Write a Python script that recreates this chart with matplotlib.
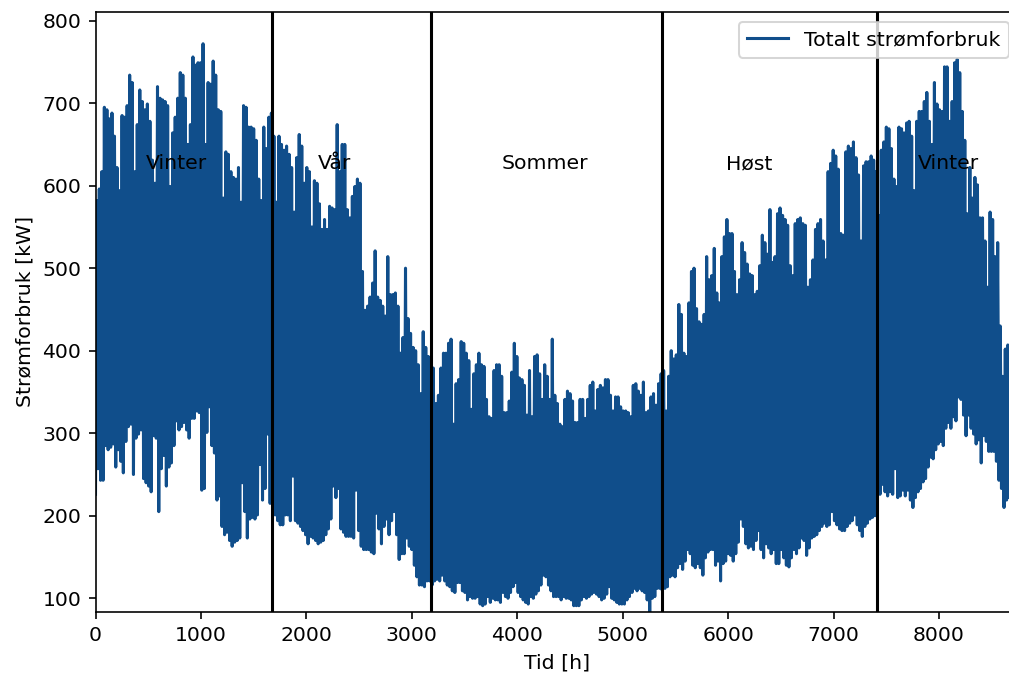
import numpy as np
import matplotlib
matplotlib.use("Agg")
import matplotlib.pyplot as plt

# Daily peak (daytime max) and trough (night min) power, kW
peak_winter1 = [582, 596, 617, 695, 692, 681, 688, 660, 622, 594, 685, 683, 697, 734, 725, 617, 674, 716, 702, 692,
                699, 678, 631, 603, 720, 706, 704, 702, 697, 599, 664, 683, 706, 737, 734, 706, 650, 674, 756, 746,
                749, 749, 772, 650, 725, 723, 751, 734, 692, 690, 585, 641, 638, 617, 610, 608, 622, 580, 697, 695, 671]
trough_winter1 = [226, 257, 243, 243, 285, 280, 283, 287, 259, 280, 266, 252, 290, 308, 311, 250, 294, 299, 304, 245,
                  240, 236, 229, 297, 294, 205, 257, 273, 236, 259, 264, 285, 315, 304, 308, 313, 304, 294, 318, 318,
                  327, 325, 231, 233, 301, 332, 285, 276, 219, 224, 187, 177, 180, 170, 163, 168, 170, 173, 240, 205, 173]
peak_spring = [671, 669, 655, 608, 582, 671, 645, 683, 688, 660, 580, 660, 650, 643, 648, 638, 622, 568, 634, 662,
               648, 603, 622, 617, 550, 606, 603, 578, 547, 559, 547, 575, 573, 571, 674, 617, 650, 650, 571, 561,
               587, 599, 608, 603, 496, 449, 454, 465, 482, 521, 465, 461, 454, 442, 514, 468, 468, 470, 454, 397, 416]
trough_spring = [196, 198, 196, 201, 262, 219, 233, 299, 215, 205, 201, 194, 189, 189, 201, 201, 194, 248, 194, 191,
                 187, 182, 177, 166, 175, 173, 170, 166, 168, 170, 177, 184, 196, 236, 222, 233, 184, 180, 175, 175,
                 175, 173, 231, 182, 163, 159, 159, 159, 156, 154, 203, 184, 166, 187, 196, 177, 194, 205, 177, 147, 154]
peak_summer1 = [500, 439, 421, 404, 400, 383, 348, 423, 404, 393, 386, 379, 336, 346, 379, 397, 397, 409, 414, 311,
                360, 365, 411, 409, 397, 388, 329, 372, 383, 397, 383, 381, 341, 320, 318, 376, 383, 383, 369, 325,
                325, 339, 374, 409, 393, 367, 365, 358, 322, 376, 320, 393, 395, 372, 341, 383, 369, 341, 414, 346, 336]
trough_summer1 = [154, 173, 163, 159, 140, 126, 116, 116, 114, 121, 121, 116, 121, 123, 121, 128, 121, 116, 114, 109,
                  107, 119, 119, 109, 107, 98, 102, 100, 100, 102, 93, 91, 93, 102, 95, 100, 98, 98, 95, 107,
                  102, 100, 107, 114, 119, 107, 102, 98, 95, 93, 102, 100, 105, 109, 116, 128, 126, 116, 109, 102, 102]
peak_summer2 = [311, 308, 341, 351, 348, 339, 313, 313, 341, 341, 318, 341, 358, 362, 327, 353, 358, 355, 365, 365,
                346, 327, 344, 344, 332, 327, 327, 325, 320, 358, 360, 351, 346, 362, 325, 327, 344, 348, 334, 360,
                372, 376, 327, 369, 400, 390, 395, 456, 444, 397, 393, 458, 496, 500, 451, 435, 432, 444, 514, 486, 491]
trough_summer2 = [102, 98, 102, 100, 100, 98, 91, 91, 91, 98, 102, 100, 102, 105, 107, 105, 102, 98, 100, 105,
                  114, 100, 98, 95, 93, 93, 93, 98, 102, 107, 112, 109, 112, 109, 107, 98, 80, 100, 102, 112,
                  112, 109, 112, 114, 126, 128, 126, 137, 142, 135, 145, 159, 154, 140, 137, 142, 137, 128, 149, 156, 159]
peak_autumn = [524, 470, 458, 514, 538, 559, 542, 542, 496, 468, 486, 531, 519, 505, 493, 491, 468, 472, 503, 540,
               531, 517, 571, 507, 514, 566, 573, 564, 559, 552, 503, 491, 554, 559, 561, 554, 552, 477, 486, 510,
               547, 554, 559, 533, 510, 617, 627, 643, 636, 620, 542, 540, 641, 648, 645, 653, 634, 613, 533, 624, 629]
trough_autumn = [159, 140, 145, 121, 142, 145, 154, 152, 145, 154, 168, 196, 187, 166, 161, 163, 159, 170, 182, 159,
                 149, 166, 161, 154, 159, 142, 142, 159, 149, 140, 138, 149, 159, 154, 161, 173, 170, 152, 161, 173,
                 175, 177, 182, 187, 191, 187, 189, 205, 194, 189, 184, 182, 182, 187, 191, 194, 201, 189, 182, 175, 187]
peak_winter2 = [629, 636, 631, 617, 564, 643, 653, 671, 669, 645, 608, 599, 671, 669, 664, 676, 678, 660, 594, 678,
                690, 690, 702, 713, 678, 650, 725, 699, 692, 690, 744, 744, 678, 702, 749, 753, 737, 690, 655, 566,
                622, 585, 610, 601, 561, 561, 533, 477, 568, 559, 514, 531, 430, 369, 402, 407, 411]
trough_winter2 = [191, 196, 198, 200, 224, 226, 238, 229, 224, 229, 226, 257, 222, 224, 231, 224, 231, 219, 210, 222,
                  229, 233, 241, 245, 259, 271, 269, 280, 287, 290, 285, 306, 313, 306, 320, 315, 344, 341, 322, 297,
                  322, 306, 299, 287, 292, 264, 297, 290, 278, 278, 278, 266, 243, 233, 210, 219, 222]

season_bounds = [1670, 3181, 5375, 7408]
season_names = ["Vinter", "Vår", "Sommer", "Høst", "Vinter"]
season_label_x = [770, 2270, 4260, 6200, 8085]
season_label_y = 620

peaks = np.array(peak_winter1 + peak_spring + peak_summer1 + peak_summer2 + peak_autumn + peak_winter2, float)
troughs = np.array(trough_winter1 + trough_spring + trough_summer1 + trough_summer2 + trough_autumn + trough_winter2, float)
day_start = np.arange(len(peaks)) * 24.0

hours = np.column_stack([day_start, day_start + 12]).ravel()
power = np.column_stack([troughs, peaks]).ravel()

W, H, DPI = 1009, 673, 147
fig = plt.figure(figsize=(W / DPI, H / DPI), dpi=DPI)
ax = fig.add_axes([95.5 / W, 61.3 / H, (1019.2 - 95.5) / W, (611.7 - 12) / H])

ax.plot(hours, power, color="#104E8B", lw=1.5, label="Totalt strømforbruk")
for b in season_bounds:
    ax.axvline(b, color="black", lw=1.5)
for name, x in zip(season_names, season_label_x):
    ax.text(x, season_label_y, name, ha="center", fontsize=10)

ax.set_xlim(0, 8760)
ax.set_ylim(83.7, 810.5)
ax.set_xticks([0, 1000, 2000, 3000, 4000, 5000, 6000, 7000, 8000])
ax.set_yticks([100, 200, 300, 400, 500, 600, 700, 800])
ax.set_xlabel("Tid [h]")
ax.set_ylabel("Strømforbruk [kW]")
ax.legend(loc="upper right")

fig.savefig("out.png", dpi=DPI)
